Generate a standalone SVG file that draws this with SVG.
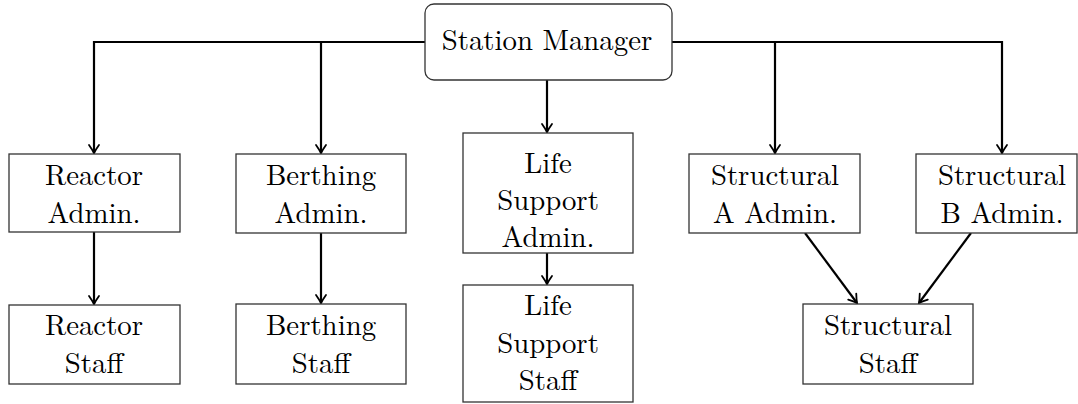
<svg xmlns="http://www.w3.org/2000/svg" width="1078" height="404" viewBox="0 0 1078 404">
<style>
.box{fill:#fff;stroke:#333;stroke-width:1.3}
.c{fill:none;stroke:#000;stroke-width:2.2}
</style>
<defs>
<marker id="ah" markerUnits="userSpaceOnUse" markerWidth="16" markerHeight="16" viewBox="-10 -8 12 16" refX="0" refY="0" orient="auto">
<path d="M-8,-5 Q-3,-1.5 0,0 Q-3,1.5 -8,5" fill="none" stroke="#000" stroke-width="1.8" stroke-linecap="round"/>
</marker>
</defs>
<rect width="1078" height="404" fill="#fff"/>
<g id="connectors">
<polyline class="c" points="425,42 94,42 94,153" marker-end="url(#ah)"/>
<line class="c" x1="321" y1="42" x2="321" y2="153" marker-end="url(#ah)"/>
<polyline class="c" points="672,42 1002,42 1002,153" marker-end="url(#ah)"/>
<line class="c" x1="775" y1="42" x2="775" y2="153" marker-end="url(#ah)"/>
<line class="c" x1="547" y1="80" x2="547" y2="132" marker-end="url(#ah)"/>
<line class="c" x1="94" y1="232" x2="94" y2="304" marker-end="url(#ah)"/>
<line class="c" x1="321" y1="233" x2="321" y2="303" marker-end="url(#ah)"/>
<line class="c" x1="547" y1="253" x2="547" y2="284" marker-end="url(#ah)"/>
<line class="c" x1="805" y1="233" x2="857" y2="303" marker-end="url(#ah)"/>
<line class="c" x1="971" y1="233" x2="919" y2="303" marker-end="url(#ah)"/>
</g>
<g id="station-manager">
<rect class="box" x="425" y="4" width="247" height="76" rx="9"/>
<text x="547" y="50" font-family="'Latin Modern Roman', 'Liberation Serif', serif" font-size="28.8" text-anchor="middle" fill="#000">Station Manager</text>
</g>
<g id="reactor-admin">
<rect class="box" x="9" y="154" width="171" height="78"/>
<text x="94" y="185" font-family="'Latin Modern Roman', 'Liberation Serif', serif" font-size="28.8" text-anchor="middle" fill="#000">Reactor</text>
<text x="94" y="223" font-family="'Latin Modern Roman', 'Liberation Serif', serif" font-size="28.8" text-anchor="middle" fill="#000">Admin.</text>
</g>
<g id="berthing-admin">
<rect class="box" x="236" y="154" width="170" height="79"/>
<text x="321" y="185" font-family="'Latin Modern Roman', 'Liberation Serif', serif" font-size="28.8" text-anchor="middle" fill="#000">Berthing</text>
<text x="321" y="223" font-family="'Latin Modern Roman', 'Liberation Serif', serif" font-size="28.8" text-anchor="middle" fill="#000">Admin.</text>
</g>
<g id="life-support-admin">
<rect class="box" x="463" y="133" width="170" height="120"/>
<text x="548" y="173" font-family="'Latin Modern Roman', 'Liberation Serif', serif" font-size="28.8" text-anchor="middle" fill="#000">Life</text>
<text x="548" y="210" font-family="'Latin Modern Roman', 'Liberation Serif', serif" font-size="28.8" text-anchor="middle" fill="#000">Support</text>
<text x="548" y="247" font-family="'Latin Modern Roman', 'Liberation Serif', serif" font-size="28.8" text-anchor="middle" fill="#000">Admin.</text>
</g>
<g id="structural-a-admin">
<rect class="box" x="689" y="154" width="171" height="79"/>
<text x="775" y="185" font-family="'Latin Modern Roman', 'Liberation Serif', serif" font-size="28.8" text-anchor="middle" fill="#000">Structural</text>
<text x="775" y="223" font-family="'Latin Modern Roman', 'Liberation Serif', serif" font-size="28.8" text-anchor="middle" fill="#000">A Admin.</text>
</g>
<g id="structural-b-admin">
<rect class="box" x="916" y="154" width="161" height="79"/>
<text x="1002" y="185" font-family="'Latin Modern Roman', 'Liberation Serif', serif" font-size="28.8" text-anchor="middle" fill="#000">Structural</text>
<text x="1002" y="223" font-family="'Latin Modern Roman', 'Liberation Serif', serif" font-size="28.8" text-anchor="middle" fill="#000">B Admin.</text>
</g>
<g id="reactor-staff">
<rect class="box" x="9" y="305" width="171" height="79"/>
<text x="94" y="335" font-family="'Latin Modern Roman', 'Liberation Serif', serif" font-size="28.8" text-anchor="middle" fill="#000">Reactor</text>
<text x="94" y="373" font-family="'Latin Modern Roman', 'Liberation Serif', serif" font-size="28.8" text-anchor="middle" fill="#000">Staff</text>
</g>
<g id="berthing-staff">
<rect class="box" x="236" y="304" width="170" height="80"/>
<text x="321" y="335" font-family="'Latin Modern Roman', 'Liberation Serif', serif" font-size="28.8" text-anchor="middle" fill="#000">Berthing</text>
<text x="321" y="373" font-family="'Latin Modern Roman', 'Liberation Serif', serif" font-size="28.8" text-anchor="middle" fill="#000">Staff</text>
</g>
<g id="life-support-staff">
<rect class="box" x="463" y="285" width="170" height="117"/>
<text x="548" y="315" font-family="'Latin Modern Roman', 'Liberation Serif', serif" font-size="28.8" text-anchor="middle" fill="#000">Life</text>
<text x="548" y="353" font-family="'Latin Modern Roman', 'Liberation Serif', serif" font-size="28.8" text-anchor="middle" fill="#000">Support</text>
<text x="548" y="390" font-family="'Latin Modern Roman', 'Liberation Serif', serif" font-size="28.8" text-anchor="middle" fill="#000">Staff</text>
</g>
<g id="structural-staff">
<rect class="box" x="803" y="304" width="170" height="80"/>
<text x="888" y="335" font-family="'Latin Modern Roman', 'Liberation Serif', serif" font-size="28.8" text-anchor="middle" fill="#000">Structural</text>
<text x="888" y="373" font-family="'Latin Modern Roman', 'Liberation Serif', serif" font-size="28.8" text-anchor="middle" fill="#000">Staff</text>
</g>
</svg>
